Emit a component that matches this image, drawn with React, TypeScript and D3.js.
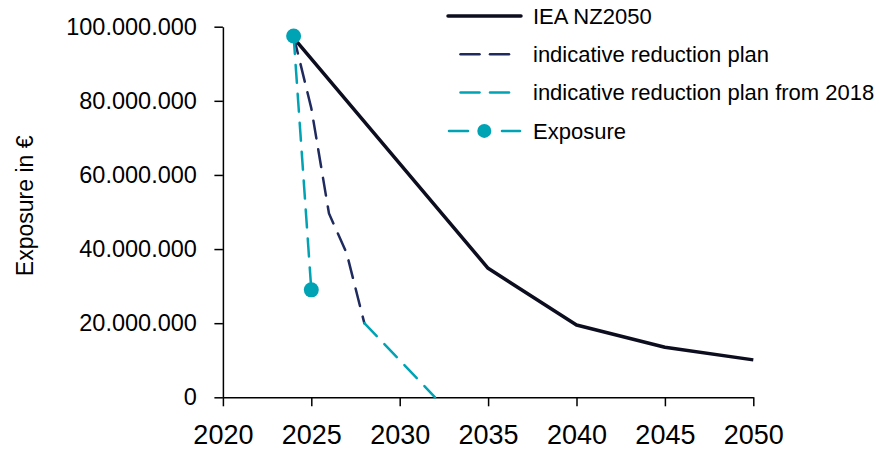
import { useEffect, useRef } from 'react';

import * as d3 from 'd3';

const WIDTH = 887;
const HEIGHT = 450;

const X_LEFT = 222.9;
const X_RIGHT = 753.3;
const Y_TOP = 26.7;
const Y_BOTTOM = 397.3;

const xTicks = [2020, 2025, 2030, 2035, 2040, 2045, 2050];
const yTicks = [0, 20000000, 40000000, 60000000, 80000000, 100000000];

const ieaYears = [2024, 2035, 2040, 2045, 2050];
const ieaValues = [97000000, 34800000, 19500000, 13500000, 10100000];

const planYears = [2024, 2025, 2026, 2027, 2028];
const planValues = [97500000, 78000000, 49600000, 38900000, 20000000];

const plan2018Years = [2028, 2032];
const plan2018Values = [20000000, 0];

const exposureYears = [2024, 2025];
const exposureValues = [97500000, 29000000];

const legendLabels = [
  'IEA NZ2050',
  'indicative reduction plan',
  'indicative reduction plan from 2018',
  'Exposure',
];

const BLACK = '#0c0d1e';
const NAVY = '#1f2a5e';
const CYAN = '#00a3b4';
const FONT = '"Liberation Sans", Arial, sans-serif';
const DASH = '18,11';

const de = d3.formatLocale({
  decimal: ',', thousands: '.', grouping: [3], currency: ['', ' €'],
});

function App() {
  const svgRef = useRef(null);

  useEffect(() => {
    const svg = d3.select(svgRef.current);
    svg.selectAll('*').remove();

    const x = d3.scaleLinear().domain([2020, 2050]).range([X_LEFT, X_RIGHT]);
    const y = d3.scaleLinear().domain([0, 100000000]).range([Y_BOTTOM, Y_TOP]);

    const line = d3.line<[number, number]>()
      .x((d) => x(d[0]))
      .y((d) => y(d[1]));

    const zip = (a: number[], b: number[]) => a.map((v, i) => [v, b[i]] as [number, number]);

    // axes
    svg.append('g')
      .attr('transform', `translate(0,${Y_BOTTOM})`)
      .call(d3.axisBottom(x).tickValues(xTicks).tickFormat(d3.format('d')).tickSize(9).tickSizeOuter(0))
      .call((g) => g.select('.domain').attr('stroke', '#000').attr('stroke-width', 1.5))
      .call((g) => g.selectAll('.tick line').attr('stroke', '#000').attr('stroke-width', 1.5))
      .call((g) => g.selectAll('.tick text')
        .attr('font-family', FONT)
        .attr('font-size', 27)
        .attr('fill', '#000')
        .attr('y', 46.5)
        .attr('dy', 0));

    svg.append('g')
      .attr('transform', `translate(${X_LEFT},0)`)
      .call(d3.axisLeft(y).tickValues(yTicks).tickFormat(de.format(',d')).tickSize(8.5).tickSizeOuter(0))
      .call((g) => g.select('.domain').attr('stroke', '#000').attr('stroke-width', 1.5))
      .call((g) => g.selectAll('.tick line').attr('stroke', '#000').attr('stroke-width', 1.5))
      .call((g) => g.selectAll('.tick text')
        .attr('font-family', FONT)
        .attr('font-size', 23.5)
        .attr('fill', '#000')
        .attr('x', -26));

    svg.append('text')
      .attr('transform', `translate(33,${(135 + 276.7) / 2}) rotate(-90)`)
      .attr('text-anchor', 'middle')
      .attr('font-family', FONT)
      .attr('font-size', 23)
      .attr('fill', '#000')
      .text('Exposure in €');

    // series
    svg.append('path')
      .attr('d', line(zip(ieaYears, ieaValues)))
      .attr('fill', 'none')
      .attr('stroke', BLACK)
      .attr('stroke-width', 3.5)
      .attr('stroke-linejoin', 'round');

    svg.append('path')
      .attr('d', line(zip(planYears, planValues)))
      .attr('fill', 'none')
      .attr('stroke', NAVY)
      .attr('stroke-width', 2.5)
      .attr('stroke-dasharray', DASH)
      .attr('stroke-linecap', 'round');

    svg.append('path')
      .attr('d', line(zip(plan2018Years, plan2018Values)))
      .attr('fill', 'none')
      .attr('stroke', CYAN)
      .attr('stroke-width', 2.5)
      .attr('stroke-dasharray', DASH)
      .attr('stroke-linecap', 'round');

    const exposure = zip(exposureYears, exposureValues);
    svg.append('path')
      .attr('d', line(exposure))
      .attr('fill', 'none')
      .attr('stroke', CYAN)
      .attr('stroke-width', 2.5)
      .attr('stroke-dasharray', DASH)
      .attr('stroke-linecap', 'round');

    svg.append('g')
      .selectAll('circle')
      .data(exposure)
      .join('circle')
      .attr('cx', (d) => x(d[0]))
      .attr('cy', (d) => y(d[1]))
      .attr('r', 7.5)
      .attr('fill', CYAN);

    // legend
    const legend = svg.append('g');
    const rowY = (i: number) => 16 + i * 38.3;

    legend.append('line')
      .attr('x1', 448).attr('x2', 521)
      .attr('y1', rowY(0)).attr('y2', rowY(0))
      .attr('stroke', BLACK).attr('stroke-width', 3.5).attr('stroke-linecap', 'round');

    [NAVY, CYAN].forEach((c, k) => {
      [[460.5, 479.5], [490, 509]].forEach(([a, b]) => {
        legend.append('line')
          .attr('x1', a).attr('x2', b)
          .attr('y1', rowY(k + 1)).attr('y2', rowY(k + 1))
          .attr('stroke', c).attr('stroke-width', 2.5).attr('stroke-linecap', 'round');
      });
    });

    [[449, 468], [502, 520]].forEach(([a, b]) => {
      legend.append('line')
        .attr('x1', a).attr('x2', b)
        .attr('y1', rowY(3)).attr('y2', rowY(3))
        .attr('stroke', CYAN).attr('stroke-width', 2.5).attr('stroke-linecap', 'round');
    });
    legend.append('circle')
      .attr('cx', 484.3).attr('cy', rowY(3)).attr('r', 7)
      .attr('fill', CYAN);

    legend.selectAll('text')
      .data(legendLabels)
      .join('text')
      .attr('x', 533)
      .attr('y', (_, i) => rowY(i))
      .attr('dy', '0.35em')
      .attr('font-family', FONT)
      .attr('font-size', 22)
      .attr('fill', '#000')
      .text((d) => d);
  }, []);

  return (
    <svg
      ref={svgRef}
      width={WIDTH}
      height={HEIGHT}
      viewBox={`0 0 ${WIDTH} ${HEIGHT}`}
      style={{ position: 'absolute', left: 0, top: 0, background: '#fff' }}
    />
  );
}

export default App;
